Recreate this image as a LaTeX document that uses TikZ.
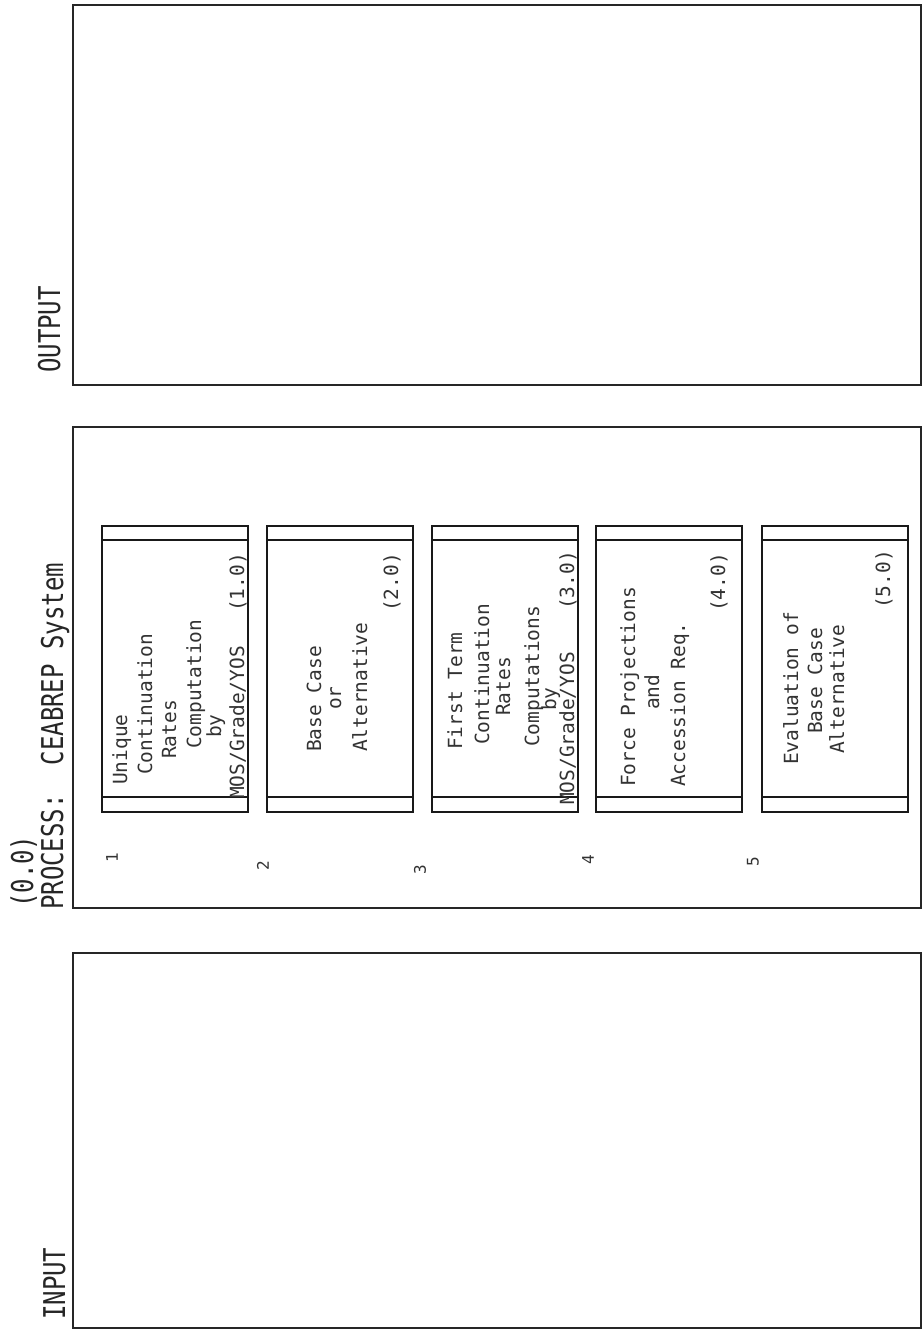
\documentclass[tikz,border=0pt]{standalone}
\usepackage{fontspec}
\newfontfamily\boxfont{DejaVu Sans Mono}
\newfontfamily\hdrfont[FakeStretch=0.8]{DejaVu Sans Mono}
\begin{document}
\begin{tikzpicture}[x=1pt,y=-1pt,
  panel/.style={draw=black!85,line width=2pt},
  pbox/.style={draw=black!90,line width=2.6pt},
  bar/.style={draw=black!90,line width=2pt},
  rt/.style={rotate=90,anchor=base west,inner sep=0pt,text=black!80,font=\boxfont\fontsize{19.5}{19.5}\selectfont},
  hdr/.style={rotate=90,anchor=base west,inner sep=0pt,text=black!85,font=\hdrfont\fontsize{30}{30}\selectfont},
  num/.style={rotate=90,inner sep=0pt,text=black!80,font=\boxfont\fontsize{16}{16}\selectfont}]
\useasboundingbox (0,0) rectangle (923,1334);
\fill[white] (0,0) rectangle (923,1334);
% panels
\draw[panel] (73,5) rectangle (921,385);
\draw[panel] (73,427) rectangle (921,908);
\draw[panel] (73,953) rectangle (921,1328);
% headers
\node[hdr] (out) at (60,373) {OUTPUT};
\node[hdr] (pnum) at (33,908) {(0.0)};
\node[hdr] (proc) at (63,910) {PROCESS:\ \ CEABREP System};
\node[hdr] (inp) at (65,1320) {INPUT};
% boxes
\foreach \i/\l in {1/102,2/267,3/432,4/596,5/762}{
  \draw[pbox] (\l,526) rectangle (\l+146,812);
  \draw[bar] (\l,540) -- (\l+146,540);
  \draw[bar] (\l,797) -- (\l+146,797);
}
% numbers
\node[num] (n1) at (112,858) {1};
\node[num] (n2) at (263,866) {2};
\node[num] (n3) at (420,870) {3};
\node[num] (n4) at (588,860) {4};
\node[num] (n5) at (753,862) {5};
% box 1
\node[rt] (a1) at (127,785) {Unique};
\node[rt] (a2) at (152,775) {Continuation};
\node[rt] (a3) at (176,759) {Rates};
\node[rt] (a4) at (201,749) {Computation};
\node[rt] (a5) at (221,738) {by};
\node[rt] (a6) at (244,799) {MOS/Grade/YOS};
\node[rt] (a7) at (244,612) {(1.0)};
% box 2
\node[rt] (b1) at (321,752) {Base Case};
\node[rt] (b2) at (341,710) {or};
\node[rt] (b3) at (367,752) {Alternative};
\node[rt] (b4) at (398,612) {(2.0)};
% box 3
\node[rt] (c1) at (462,750) {First Term};
\node[rt] (c2) at (489,745) {Continuation};
\node[rt] (c3) at (510,716) {Rates};
\node[rt] (c4) at (539,747) {Computations};
\node[rt] (c5) at (556,711) {by};
\node[rt] (c6) at (574,805) {MOS/Grade/YOS};
\node[rt] (c7) at (574,610) {(3.0)};
% box 4
\node[rt] (d1) at (635,787) {Force Projections};
\node[rt] (d2) at (659,710) {and};
\node[rt] (d3) at (685,787) {Accession Req.};
\node[rt] (d4) at (725,612) {(4.0)};
% box 5
\node[rt] (e1) at (798,765) {Evaluation of};
\node[rt] (e2) at (822,734) {Base Case};
\node[rt] (e3) at (844,754) {Alternative};
\node[rt] (e4) at (890,609) {(5.0)};
\end{tikzpicture}
\end{document}
